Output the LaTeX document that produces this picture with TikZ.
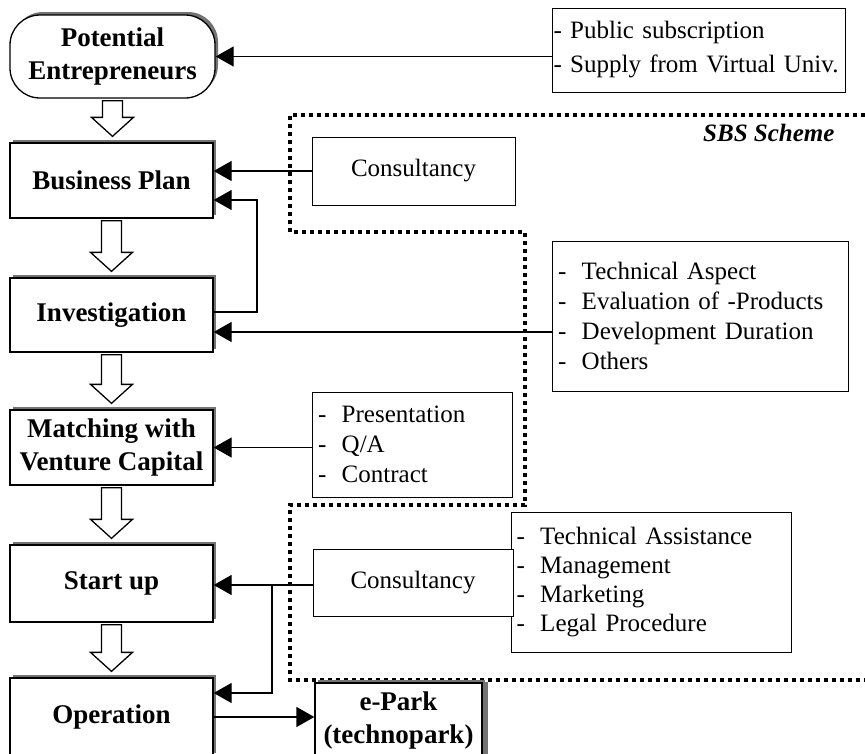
\documentclass[tikz,border=0pt]{standalone}
\usepackage{fontspec}
\setmainfont{Liberation Serif}
\usetikzlibrary{arrows.meta,shadows,calc}

% dash item for the small lists
\newcommand{\li}[1]{\makebox[0.95em][l]{-}#1}

% hollow block arrow from one stage down to the next
\newcommand{\fatdown}[2]{%
  \draw[line width=1.3pt, fill=white, line join=miter]
    let \p1=($(#1.south)+(0,2)$), \p2=($(#2.north)+(0,-6)$) in
    (\x1-10pt,\y1) -- (\x1+10pt,\y1) -- (\x1+10pt,\y2+19pt) -- (\x1+21pt,\y2+19pt)
    -- (\x1,\y2) -- (\x1-21pt,\y2+19pt) -- (\x1-10pt,\y2+19pt) -- cycle;}

\tikzset{
  stage/.style={draw, line width=1.3pt, fill=white, align=center,
    font=\bfseries\fontsize{27}{33}\selectfont,
    minimum width=203pt, minimum height=75pt, inner sep=2pt,
    drop shadow={shadow xshift=3pt, shadow yshift=3pt, fill=black!55, opacity=1}},
  info/.style={draw, line width=1pt, fill=white, align=left,
    font=\fontsize{25}{30}\selectfont},
  conn/.style={line width=1.3pt, -{Triangle[length=18pt,width=20pt]}},
  sbs/.style={line width=3.8pt, dash pattern=on 3.8pt off 4.2pt},
}

\begin{document}
\begin{tikzpicture}[x=1pt, y=-1pt]
	\useasboundingbox (0,0) rectangle (865,753);

	% SBS scheme border
	\draw[sbs] (865,115) -- (290,115) -- (290,232) -- (525,232) -- (525,505)
		-- (290,505) -- (290,680) -- (865,680);
	\node[font=\bfseries\itshape\fontsize{25}{30}\selectfont, anchor=east] (sbs) at (838,133) {SBS Scheme};

	% main stages
	\node[stage, rounded corners=30pt, minimum width=205pt, minimum height=83pt] (pe) at (112.5,56.5) {Potential\\Entrepreneurs};
	\node[stage] (bp) at (111.5,180.5) {Business Plan};
	\node[stage, minimum height=74pt] (inv) at (111.5,315) {Investigation};
	\node[stage] (match) at (111.5,447.5) {Matching with\\Venture Capital};
	\node[stage, minimum height=77pt] (start) at (111.5,583.5) {Start up};
	\node[stage, minimum height=78pt] (op) at (111.5,717) {Operation};
	\node[stage, minimum width=167pt, minimum height=74pt,
		drop shadow={shadow xshift=6pt, shadow yshift=1pt, fill=black!55, opacity=1}] (epark) at (398.5,720) {e-Park\\(technopark)};

	\fatdown{pe}{bp}
	\fatdown{bp}{inv}
	\fatdown{inv}{match}
	\fatdown{match}{start}
	\fatdown{start}{op}

	% support boxes
	\node[info, text width=290pt, inner xsep=1.5pt, minimum height=84pt, font=\fontsize{25}{34}\selectfont] (pub) at (698.5,50)
		{- Public subscription\\- Supply from Virtual Univ.};
	\node[info, align=center, minimum width=203pt, minimum height=68pt] (cons1) at (413.5,171) {Consultancy};
	\node[info, text width=284pt, inner xsep=6pt, minimum height=150pt, font=\fontsize{25}{30}\selectfont] (tech) at (700,316)
		{\li{Technical Aspect}\\\li{Evaluation of -Products}\\\li{Development Duration}\\\li{Others}};
	\node[info, text width=188pt, inner xsep=6pt, minimum height=105pt] (pres) at (412,444.5)
		{\li{Presentation}\\\li{Q/A}\\\li{Contract}};
	\node[info, text width=270pt, inner xsep=5pt, minimum height=140pt, font=\fontsize{25}{29}\selectfont] (tech2) at (651.5,582)
		{\li{Technical Assistance}\\\li{Management}\\\li{Marketing}\\\li{Legal Procedure}};
	\node[info, align=center, minimum width=200pt, minimum height=67pt] (cons2) at (413,582.5) {Consultancy};

	% connectors
	\draw[conn] (pe.east -| pub.west) -- (pe.east);
	\draw[conn] (cons1.west) -- (cons1.west -| bp.east);
	\coordinate (loop) at (257,200);
	\draw[conn] ([yshift=3pt]inv.east) -| (loop) -- (loop -| bp.east);
	\coordinate (invin) at ([yshift=-17pt]inv.east);
	\draw[conn] (invin -| tech.west) -- (invin);
	\draw[conn] (match.east -| pres.west) -- (match.east);
	\coordinate (split) at (272,585);
	\draw[conn] (split -| cons2.west) -- (split -| start.east);
	\coordinate (opin) at ([yshift=24pt]op.east);
	\draw[conn] (split) |- (opin);
	\draw[conn] (op.east) -- (op.east -| epark.west);
\end{tikzpicture}
\end{document}
